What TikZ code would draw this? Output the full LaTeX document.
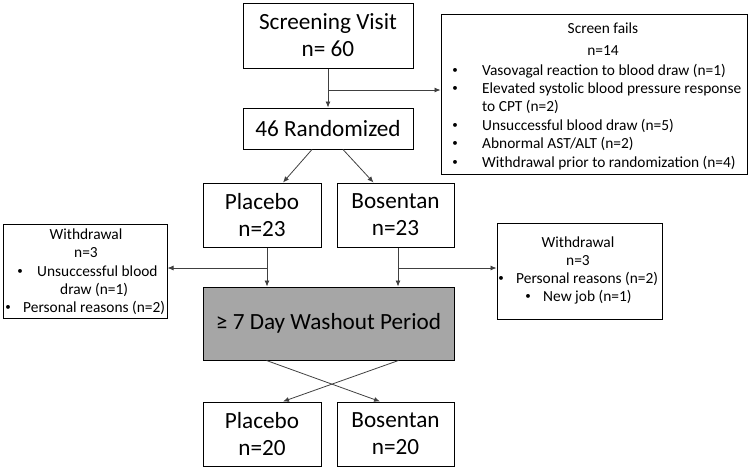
\documentclass[tikz,border=0pt]{standalone}
\usepackage{fontspec}
\setmainfont{Carlito}
\usetikzlibrary{arrows.meta}
\definecolor{washgray}{HTML}{A6A6A6}
\definecolor{linegray}{HTML}{404040}
\tikzset{
  bigbox/.style={draw=black, line width=1pt, inner sep=0pt, font=\fontsize{23.2}{27}\selectfont, align=center},
  infobox/.style={draw=black, line width=1pt, inner sep=0pt},
  smalltxt/.style={inner sep=0pt, font=\fontsize{15.4}{18}\selectfont},
  bul/.style={inner sep=0pt, font=\fontsize{11}{12}\selectfont},
  arr/.style={draw=linegray, line width=0.8pt, -{Latex[length=6pt,width=5pt]}},
  plain/.style={draw=linegray, line width=0.8pt}
}
\begin{document}
\begin{tikzpicture}[x=1pt,y=-1pt]
\useasboundingbox (0,0) rectangle (750,469);
% main boxes
\node[bigbox, minimum width=170pt, minimum height=65pt] (sv) at (328,35.5) {Screening Visit\\n= 60};
\node[bigbox, minimum width=170pt, minimum height=41pt] (rand) at (328,128.5) {46 Randomized};
\node[bigbox, minimum width=118pt, minimum height=64pt] (pl1) at (262,215) {Placebo\\n=23};
\node[bigbox, minimum width=117pt, minimum height=64pt] (bo1) at (395.5,215) {Bosentan\\n=23};
\node[bigbox, fill=washgray, minimum width=251pt, minimum height=73pt] (wash) at (328.5,323.5) {≥ 7 Day Washout Period};
\node[bigbox, minimum width=118pt, minimum height=64pt] (pl2) at (262,434) {Placebo\\n=20};
\node[bigbox, minimum width=117pt, minimum height=64pt] (bo2) at (395.5,434) {Bosentan\\n=20};
% info boxes
\node[infobox, minimum width=306pt, minimum height=160pt] (sf) at (594,94) {};
\node[infobox, minimum width=164pt, minimum height=94pt] (wl) at (85,271) {};
\node[infobox, minimum width=165pt, minimum height=96pt] (wr) at (579.5,271) {};
% screen fails text
\node[smalltxt, anchor=base] (sf1) at (603,33) {Screen fails};
\node[smalltxt, anchor=base] (sf2) at (603,55) {n=14};
\node[bul, anchor=base] (sfb1) at (455,73) {•};
\node[smalltxt, anchor=base west] (sft1) at (482,75) {Vasovagal reaction to blood draw (n=1)};
\node[bul, anchor=base] (sfb2) at (455,91) {•};
\node[smalltxt, anchor=base west] (sft2) at (482,93) {Elevated systolic blood pressure response};
\node[smalltxt, anchor=base west] (sft2b) at (482,111.5) {to CPT (n=2)};
\node[bul, anchor=base] (sfb3) at (455,128) {•};
\node[smalltxt, anchor=base west] (sft3) at (482,130) {Unsuccessful blood draw (n=5)};
\node[bul, anchor=base] (sfb4) at (455,146.5) {•};
\node[smalltxt, anchor=base west] (sft4) at (482,148.5) {Abnormal AST/ALT (n=2)};
\node[bul, anchor=base] (sfb5) at (455,165) {•};
\node[smalltxt, anchor=base west] (sft5) at (482,167) {Withdrawal prior to randomization (n=4)};
% left withdrawal text
\node[smalltxt, anchor=base] (wl1) at (86,239.5) {Withdrawal};
\node[smalltxt, anchor=base] (wl2) at (86,257.5) {n=3};
\node[bul, anchor=base] (wlb1) at (20,274) {•};
\node[smalltxt, anchor=base west] (wlt1) at (37,276) {Unsuccessful blood};
\node[smalltxt, anchor=base west] (wlt1b) at (60,294) {draw (n=1)};
\node[bul, anchor=base] (wlb2) at (8,310) {•};
\node[smalltxt, anchor=base west] (wlt2) at (23,312) {Personal reasons (n=2)};
% right withdrawal text
\node[smalltxt, anchor=base] (wr1) at (578,247) {Withdrawal};
\node[smalltxt, anchor=base] (wr2) at (578,265) {n=3};
\node[bul, anchor=base] (wrb1) at (501,281) {•};
\node[smalltxt, anchor=base west] (wrt1) at (516,283) {Personal reasons (n=2)};
\node[bul, anchor=base] (wrb2) at (528,299.5) {•};
\node[smalltxt, anchor=base west] (wrt2) at (543,301.5) {New job (n=1)};
% connectors
\coordinate (j1) at (sv.south |- 0,90);
\draw[arr] (sv.south) -- (rand.north);
\draw[arr] (j1) -- (j1 -| sf.west);
\draw[arr] ([xshift=-16pt]rand.south) -- ([xshift=21pt]pl1.north);
\draw[arr] ([xshift=15pt]rand.south) -- ([xshift=-22pt]bo1.north);
\coordinate (pd) at ([xshift=5pt]pl1.south);
\coordinate (bd) at ([xshift=2.5pt]bo1.south);
\draw[arr] (pd) -- (pd |- wash.north);
\draw[arr] (bd) -- (bd |- wash.north);
\coordinate (pj) at (pd |- 0,268);
\coordinate (bj) at (bd |- 0,268);
\draw[arr] (pj) -- (pj -| wl.east);
\draw[arr] (bj) -- (bj -| wr.west);
\draw[arr] ([xshift=-62pt]wash.south) -- ([xshift=-15.5pt]bo2.north);
\draw[arr] ([xshift=70pt]wash.south) -- ([xshift=21pt]pl2.north);
\end{tikzpicture}
\end{document}
